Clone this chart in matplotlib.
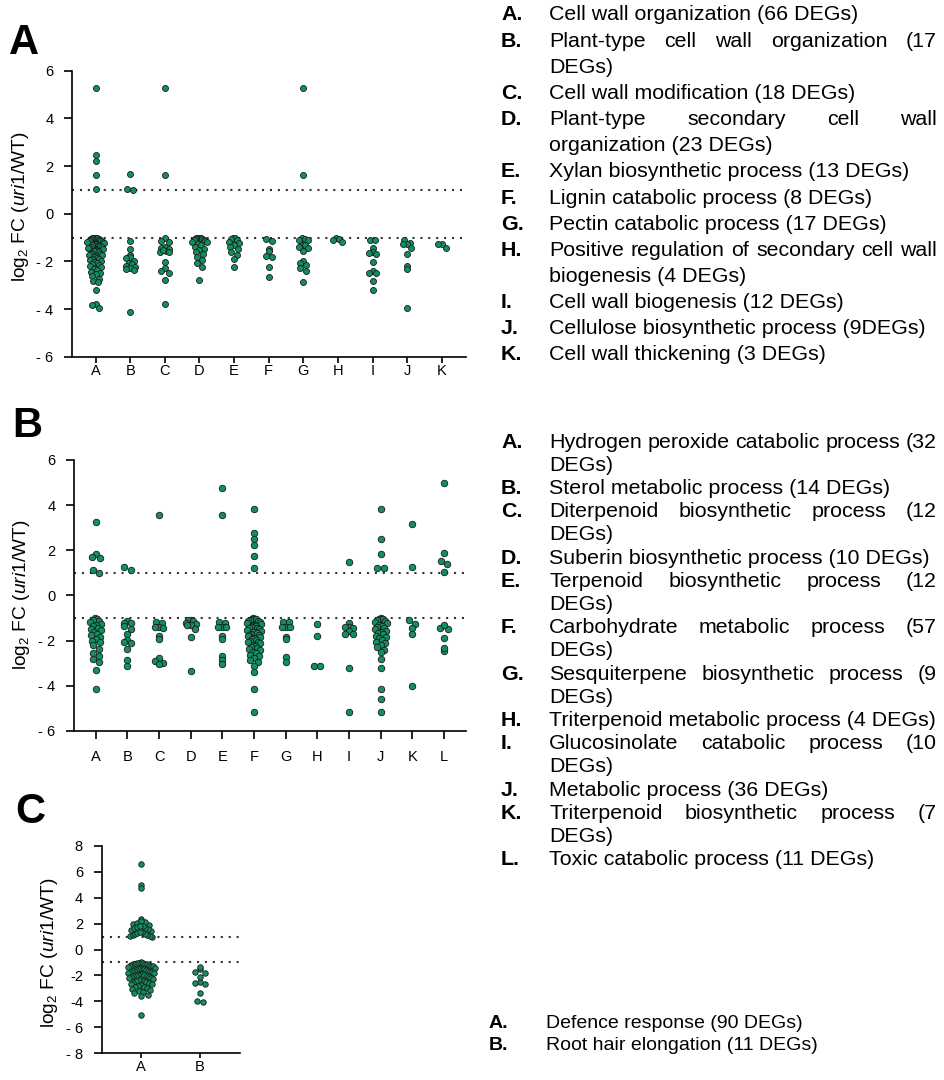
import numpy as np
import matplotlib
matplotlib.use("Agg")
import matplotlib.pyplot as plt

plt.rcParams['font.family'] = ['Liberation Sans', 'DejaVu Sans']
plt.rcParams['mathtext.fontset'] = 'custom'
plt.rcParams['mathtext.rm'] = 'Liberation Sans'
plt.rcParams['mathtext.it'] = 'Liberation Sans:italic'

# ---- panel A: cell wall terms, log2 FC per DEG ----
a_cats = list("ABCDEFGHIJK")
a_A = [5.29, 2.46, 2.22, 1.62, 1.02,
       -1.00, -1.01, -1.02, -1.03, -1.04, -1.06, -1.08, -1.10, -1.12, -1.14, -1.16, -1.18, -1.20,
       -1.23,
       -1.26, -1.28, -1.30, -1.31, -1.33, -1.35, -1.37, -1.39, -1.41, -1.43, -1.45, -1.48,
       -1.52, -1.55, -1.58, -1.61, -1.64, -1.67, -1.70, -1.72, -1.74,
       -1.78, -1.81, -1.85, -1.88, -1.92, -1.95, -1.99,
       -2.03, -2.07, -2.12, -2.16, -2.20, -2.24,
       -2.30, -2.37, -2.44, -2.49,
       -2.55, -2.63, -2.72, -2.82, -2.88,
       -3.22, -3.78, -3.84, -3.97]
a_B = [1.68, 1.00, 1.02, -1.15, -1.50, -1.75, -1.80, -1.87, -2.00, -2.05, -2.10, -2.20, -2.25,
       -2.28, -2.30, -2.38, -4.14]
a_C = [5.29, 1.62, -1.03, -1.15, -1.20, -1.40, -1.45, -1.50, -1.55, -1.60, -1.62, -1.52, -2.03,
       -2.28, -2.40, -2.50, -2.78, -3.80]
a_D = [-1.00, -1.01, -1.02, -1.03, -1.05, -1.08, -1.10, -1.12, -1.15, -1.18, -1.20, -1.28, -1.32,
       -1.40, -1.48, -1.52, -1.60, -1.70, -1.80, -1.95, -2.05, -2.25, -2.80]
a_E = [-1.00, -1.03, -1.08, -1.12, -1.18, -1.22, -1.30, -1.40, -1.50, -1.60, -1.75, -1.90, -2.22]
a_F = [-1.05, -1.15, -1.48, -1.57, -1.78, -1.82, -2.24, -2.66]
a_G = [5.29, 1.62, -1.04, -1.08, -1.11, -1.11, -1.30, -1.32, -1.39, -1.43, -1.57, -1.98, -2.06,
       -2.16, -2.27, -2.39, -2.85]
a_H = [-1.04, -1.08, -1.10, -1.18]
a_I = [-1.10, -1.10, -1.43, -1.60, -1.64, -1.67, -2.02, -2.40, -2.47, -2.48, -2.82, -3.20]
a_J = [-1.10, -1.23, -1.26, -1.29, -1.46, -1.69, -2.19, -2.32, -3.95]
a_K = [-1.46, -1.26, -1.28]
panel_a = [a_A, a_B, a_C, a_D, a_E, a_F, a_G, a_H, a_I, a_J, a_K]

# ---- panel B ----
b_cats = list("ABCDEFGHIJKL")
b_A = [3.24, 1.85, 1.70, 1.65, 1.15, 1.00,
       -1.00, -1.05, -1.10, -1.14, -1.18, -1.24, -1.30, -1.36, -1.42, -1.48, -1.54,
       -1.62, -1.70, -1.76, -1.82, -1.92, -2.00, -2.08, -2.20, -2.38, -2.55,
       -2.70, -2.80, -2.95, -3.30, -4.15]
b_B = [1.12, 1.27, -1.14, -1.20, -1.20, -1.36, -1.47, -1.69, -1.98, -2.06, -2.10, -2.35, -2.85, -3.10]
b_C = [3.56, -1.17, -1.20, -1.40, -1.40, -1.45, -1.80, -1.94, -2.75, -2.90, -3.00, -3.05]
b_D = [-1.08, -1.10, -1.15, -1.20, -1.25, -1.29, -1.30, -1.47, -1.84, -3.35]
b_E = [4.77, 3.56, -1.17, -1.20, -1.39, -1.39, -1.39, -1.80, -1.94, -2.70, -2.85, -3.05]
b_F = [3.81, 2.75, 2.48, 2.22, 1.73, 1.21,
       -1.00, -1.02, -1.04, -1.06, -1.09, -1.12, -1.15, -1.19, -1.22, -1.26,
       -1.30, -1.33, -1.36, -1.40, -1.43, -1.46, -1.50, -1.53, -1.56,
       -1.60, -1.63, -1.67, -1.70, -1.74, -1.77, -1.80, -1.84,
       -1.88, -1.92, -1.96, -2.00, -2.04, -2.08, -2.12,
       -2.18, -2.23, -2.28, -2.33, -2.37, -2.41,
       -2.48, -2.55, -2.62, -2.70, -2.78, -2.86, -2.95,
       -3.10, -3.40, -4.15, -5.15]
b_G = [-1.17, -1.17, -1.39, -1.39, -1.39, -1.83, -1.94, -2.72, -2.95]
b_H = [-1.24, -1.80, -3.10, -3.12]
b_I = [1.48, -1.20, -1.39, -1.39, -1.45, -1.58, -1.70, -1.72, -3.20, -5.15]
b_J = [3.81, 2.48, 1.85, 1.20, 1.22,
       -1.00, -1.03, -1.06, -1.10, -1.14, -1.18, -1.23,
       -1.31, -1.36, -1.41, -1.46, -1.50, -1.55,
       -1.61, -1.67, -1.72, -1.78, -1.84,
       -1.90, -1.97, -2.04, -2.11, -2.20, -2.30, -2.40, -2.50,
       -2.80, -3.20, -4.15, -4.60, -5.15]
b_K = [3.15, 1.24, -1.10, -1.24, -1.43, -1.72, -4.00]
b_L = [4.97, 1.51, 1.86, 1.39, 1.05, -1.42, -1.47, -1.30, -1.86, -2.47, -2.32]
panel_b = [b_A, b_B, b_C, b_D, b_E, b_F, b_G, b_H, b_I, b_J, b_K, b_L]

# ---- panel C ----
c_cats = ["A", "B"]
c_A = [6.62, 5.00, 4.72, 2.32,
       1.90, 1.98, 2.05, 2.12, 2.20,
       1.45, 1.50, 1.56, 1.62, 1.68, 1.73, 1.78, 1.83,
       1.00, 1.03, 1.06, 1.10, 1.14, 1.18, 1.23, 1.28, 1.33, 1.38,
       -1.00, -1.02, -1.04, -1.06, -1.08, -1.10, -1.12, -1.15, -1.18, -1.21, -1.24, -1.27, -1.31,
       -1.35, -1.39,
       -1.44, -1.47, -1.50, -1.53, -1.56, -1.59, -1.62, -1.65, -1.68, -1.71, -1.74, -1.77, -1.80,
       -1.83,
       -1.87, -1.90, -1.94, -1.97, -2.01, -2.04, -2.08, -2.11, -2.15, -2.18, -2.22, -2.25,
       -2.30, -2.35, -2.40, -2.45, -2.50, -2.55, -2.60, -2.64, -2.68,
       -2.74, -2.80, -2.86, -2.92, -2.98, -3.04, -3.10,
       -3.18, -3.28, -3.38, -3.48, -3.58, -5.05]
c_B = [-1.53, -2.48, -1.33, -2.10, -2.66, -3.38, -4.02, -1.79, -2.56, -3.97, -1.71]
panel_c = [c_A, c_B]

list_a = [("A.", "Cell wall organization (66 DEGs)", False),
          ("B.", "Plant-type cell wall organization (17", True),
          ("", "DEGs)", False),
          ("C.", "Cell wall modification (18 DEGs)", False),
          ("D.", "Plant-type secondary cell wall", True),
          ("", "organization (23 DEGs)", False),
          ("E.", "Xylan biosynthetic process (13 DEGs)", False),
          ("F.", "Lignin catabolic process (8 DEGs)", False),
          ("G.", "Pectin catabolic process (17 DEGs)", False),
          ("H.", "Positive regulation of secondary cell wall", True),
          ("", "biogenesis (4 DEGs)", False),
          ("I.", "Cell wall biogenesis (12 DEGs)", False),
          ("J.", "Cellulose biosynthetic process (9DEGs)", False),
          ("K.", "Cell wall thickening (3 DEGs)", False)]
list_b = [("A.", "Hydrogen peroxide catabolic process (32", True),
          ("", "DEGs)", False),
          ("B.", "Sterol metabolic process (14 DEGs)", False),
          ("C.", "Diterpenoid biosynthetic process (12", True),
          ("", "DEGs)", False),
          ("D.", "Suberin biosynthetic process (10 DEGs)", False),
          ("E.", "Terpenoid biosynthetic process (12", True),
          ("", "DEGs)", False),
          ("F.", "Carbohydrate metabolic process (57", True),
          ("", "DEGs)", False),
          ("G.", "Sesquiterpene biosynthetic process (9", True),
          ("", "DEGs)", False),
          ("H.", "Triterpenoid metabolic process (4 DEGs)", False),
          ("I.", "Glucosinolate catabolic process (10", True),
          ("", "DEGs)", False),
          ("J.", "Metabolic process (36 DEGs)", False),
          ("K.", "Triterpenoid biosynthetic process (7", True),
          ("", "DEGs)", False),
          ("L.", "Toxic catabolic process (11 DEGs)", False)]
list_c = [("A.", "Defence response (90 DEGs)", False),
          ("B.", "Root hair elongation (11 DEGs)", False)]

GREEN = '#10905f'
W, H = 944, 1080
fig = plt.figure(figsize=(W / 100, H / 100), dpi=100)


def px_axes(left, top, right, bottom):
    return fig.add_axes([left / W, 1 - bottom / H, (right - left) / W, (bottom - top) / H])


def row_x(ax, center, vals, diam, c):
    # Prism-style scatter: bin points into rows one dot high, spread each row sideways,
    # crowded rows get squeezed (overlapping dots) so clusters taper
    vals = np.asarray(vals, dtype=float)
    tr = ax.transData
    y_px = tr.transform(np.column_stack([np.full(len(vals), center), vals]))[:, 1]
    cx, y_hi = tr.transform((center, 1))
    y_lo = tr.transform((center, -1))[1]
    keys = []
    for v, y in zip(vals, y_px):
        if v >= 0:
            keys.append((1, int(np.floor((y - y_hi) / diam + 1e-9))))
        else:
            keys.append((-1, int(np.floor((y_lo - y) / diam + 1e-9))))
    x_px = np.full(len(vals), cx)
    for key in set(keys):
        idx = sorted([i for i, k in enumerate(keys) if k == key], key=lambda i: -vals[i])
        k = len(idx)
        if k == 1:
            continue
        span = min((k - 1) * diam * 0.95, c * np.sqrt(k))
        offs = np.linspace(-span / 2, span / 2, k)
        offs = offs[np.argsort(np.abs(offs), kind='stable')]
        for i, o in zip(idx, offs):
            x_px[i] = cx + o
    return tr.inverted().transform(np.column_stack([x_px, y_px]))[:, 0]


def draw_panel(ax, groups, cats, xlim, ylim, yticks, ylabels, diam, c, xlen, xpad):
    ax.set_xlim(xlim)
    ax.set_ylim(ylim)
    for s in ['top', 'right']:
        ax.spines[s].set_visible(False)
    for s in ['left', 'bottom']:
        ax.spines[s].set_linewidth(1.2)
    ax.set_yticks(yticks)
    ax.set_yticklabels(ylabels)
    ax.set_xticks(range(len(cats)))
    ax.set_xticklabels(cats)
    ax.tick_params(axis='y', length=5.5, width=1.2, labelsize=10.5, pad=8)
    ax.tick_params(axis='x', length=xlen, width=1.2, labelsize=10.5, pad=xpad)
    for yv in (1, -1):
        ax.axhline(yv, color='#333333', lw=1.5, ls=(0, (1, 2.8)), zorder=1)
    s = (diam * 0.72) ** 2
    for k, vals in enumerate(groups):
        xs = row_x(ax, k, vals, diam, c)
        ax.scatter(xs, vals, s=s, color=GREEN, edgecolor='#1a1a1a', linewidth=0.6,
                   zorder=3, clip_on=False)


ax_a = px_axes(72, 70.7, 466, 356.7)
ax_b = px_axes(74, 460, 466, 731)
ax_c = px_axes(101.7, 845.7, 240, 1053.3)

draw_panel(ax_a, panel_a, a_cats, (-0.68, 10.7), (-6, 6), [-6, -4, -2, 0, 2, 4, 6],
           ['- 6', '- 4', '- 2', '0', '2', '4', '6'], 6.0, 4.4, 4, 1)
draw_panel(ax_b, panel_b, b_cats, (-0.69, 11.7), (-6, 6), [-6, -4, -2, 0, 2, 4, 6],
           ['- 6', '- 4', '- 2', '0', '2', '4', '6'], 6.5, 4.5, 5.5, 8)
draw_panel(ax_c, panel_c, c_cats, (-0.67, 1.68), (-8, 8), [-8, -6, -4, -2, 0, 2, 4, 6, 8],
           ['- 8', '- 6', '-4', '-2', '0', '2', '4', '6', '8'], 5.5, 7.0, 3.5, 1)

ylab = r'log$_2$ FC ($\mathit{uri1}$/WT)'
for (x, y) in [(21, 207), (21.5, 595), (50, 953)]:
    fig.text(x / W, 1 - y / H, ylab, rotation=90, ha='center', va='center', fontsize=13.8)

for letter, (x, y) in zip("ABC", [(9, 54), (12, 437), (15, 823)]):
    fig.text(x / W, 1 - y / H, letter, fontsize=30, fontweight='bold', ha='left', va='baseline')

renderer = fig.canvas.get_renderer()


def put_line(x, y, text, size, right=None):
    if right is None:
        fig.text(x / W, 1 - y / H, text, fontsize=size, ha='left', va='center')
        return
    words = text.split()
    arts = [fig.text(0, 0, w, fontsize=size, ha='left', va='center') for w in words]
    widths = [a.get_window_extent(renderer).width for a in arts]
    gap = (right - x - sum(widths)) / (len(words) - 1)
    cur = x
    for a, w in zip(arts, widths):
        a.set_position((cur / W, 1 - y / H))
        cur += w + gap


def put_list(items, lx, tx, y0, step, size):
    for i, (lab, text, just) in enumerate(items):
        y = y0 + i * step
        if lab:
            fig.text(lx / W, 1 - y / H, lab, fontsize=size, fontweight='bold', ha='left', va='center')
        put_line(tx, y, text, size, 937 if just else None)


put_list(list_a, 501, 549, 15, 26.15, 15.4)
put_list(list_b, 501, 549, 442, 23.2, 15.4)
put_list(list_c, 489, 546, 1024, 22, 14)

fig.savefig('out.png', dpi=100)
